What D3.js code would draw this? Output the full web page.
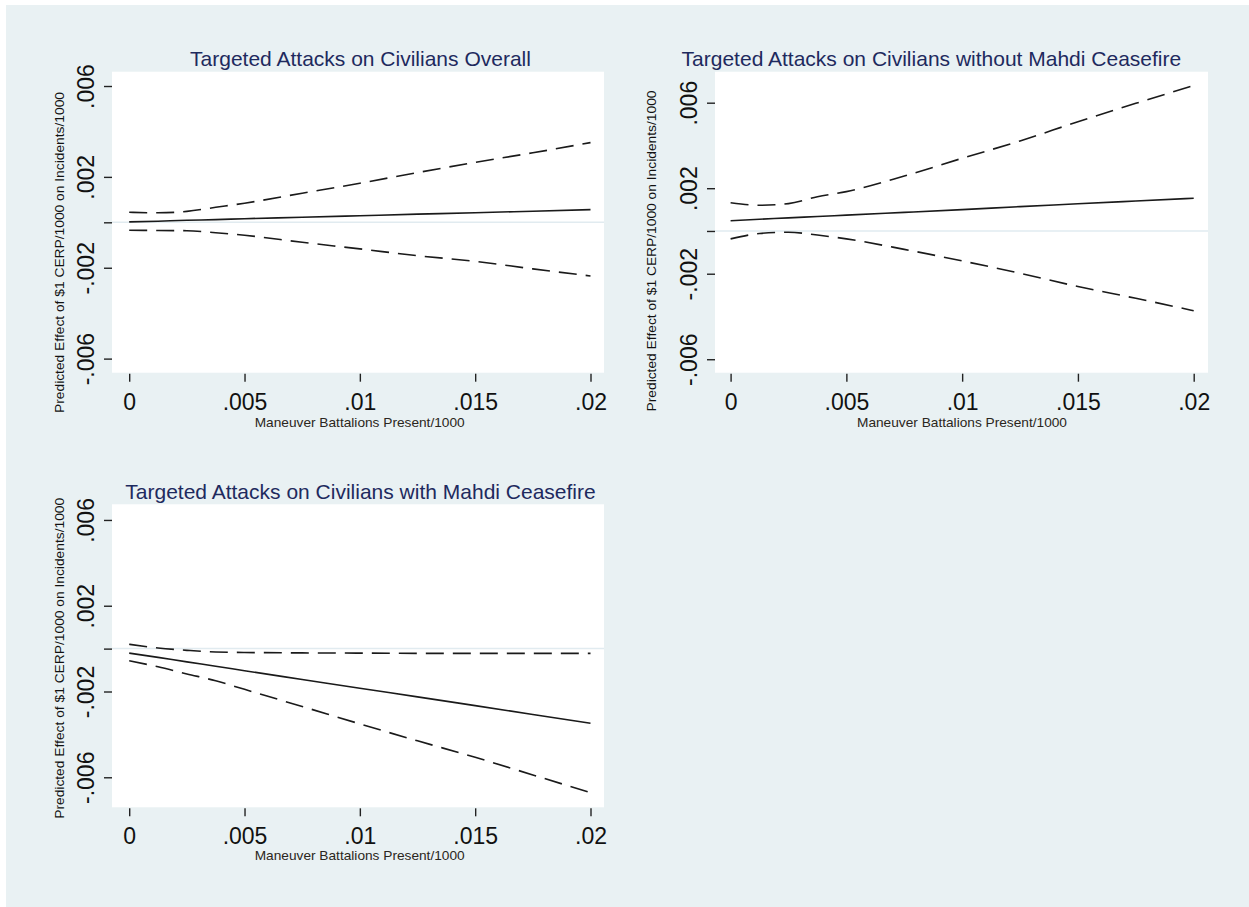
<!DOCTYPE html>
<html>
<head>
<meta charset="utf-8">
<script src="https://cdn.jsdelivr.net/npm/d3@7"></script>
<style>
  html, body { margin: 0; padding: 0; background: #ffffff; }
  svg { display: block; }
</style>
</head>
<body>
<svg id="chart" width="1249" height="907"></svg>
<script>
// ---------------- DATA ----------------
const xValues = [0, 0.00125, 0.0025, 0.00375, 0.005, 0.0075, 0.01, 0.0125, 0.015, 0.0175, 0.02];

// Panel 1: Overall
const overallEstimate = [0.00002, 0.00005, 0.00009, 0.00012, 0.00016, 0.00022, 0.00029, 0.00036, 0.00042, 0.00049, 0.00056];
const overallUpper    = [0.00044, 0.00042, 0.00048, 0.00066, 0.00084, 0.00128, 0.00172, 0.00219, 0.00264, 0.00306, 0.00351];
const overallLower    = [-0.00035, -0.00036, -0.00037, -0.00046, -0.00057, -0.00088, -0.00117, -0.00147, -0.00172, -0.00205, -0.00236];

// Panel 2: without Mahdi ceasefire
const withoutEstimate = [0.00048, 0.00055, 0.00061, 0.00068, 0.00074, 0.00087, 0.00100, 0.00114, 0.00127, 0.00140, 0.00153];
const withoutUpper    = [0.00132, 0.00120, 0.00128, 0.00160, 0.00184, 0.00257, 0.00340, 0.00421, 0.00511, 0.00597, 0.00680];
const withoutLower    = [-0.00037, -0.00012, -0.00006, -0.00019, -0.00037, -0.00086, -0.00140, -0.00198, -0.00260, -0.00315, -0.00373];

// Panel 3: with Mahdi ceasefire
const withEstimate = [-0.00021, -0.00041, -0.00062, -0.00082, -0.00103, -0.00144, -0.00185, -0.00225, -0.00266, -0.00307, -0.00348];
const withUpper    = [0.00020, 0.00003, -0.00008, -0.00016, -0.00018, -0.00020, -0.00021, -0.00022, -0.00022, -0.00022, -0.00022];
const withLower    = [-0.00057, -0.00085, -0.00118, -0.00150, -0.00190, -0.00270, -0.00351, -0.00430, -0.00507, -0.00589, -0.00672];

const panelTitles = [
  "Targeted Attacks on Civilians Overall",
  "Targeted Attacks on Civilians without Mahdi Ceasefire",
  "Targeted Attacks on Civilians with Mahdi Ceasefire"
];
const yTickValues = [0.006, 0.002, 0, -0.002, -0.006];
const yTickLabels = [".006", ".002", "", "-.002", "-.006"];
const xTickValues = [0, 0.005, 0.01, 0.015, 0.02];
const xTickLabels = ["0", ".005", ".01", ".015", ".02"];
const xAxisTitle = "Maneuver Battalions Present/1000";
const yAxisTitle = "Predicted Effect of $1 CERP/1000 on Incidents/1000";

// ---------------- LAYOUT ----------------
const panels = [
  { est: overallEstimate, up: overallUpper, lo: overallLower, title: panelTitles[0],
    left: 112, right: 604, top: 71.7, bottom: 372.7, yDomain: [-0.00662, 0.00663],
    xr: [129.2, 590.5], titleX: 360.5, titleY: 66, yTitleX: 63.5, yTitleY: 252.5, xTitleX: 359.7, xTitleY: 427 },
  { est: withoutEstimate, up: withoutUpper, lo: withoutLower, title: panelTitles[1],
    left: 715, right: 1208, top: 71.7, bottom: 372.7, yDomain: [-0.00663, 0.00745],
    xr: [730.6, 1193.7], titleX: 931.4, titleY: 66, yTitleX: 656, yTitleY: 251, xTitleX: 962, xTitleY: 427 },
  { est: withEstimate, up: withUpper, lo: withLower, title: panelTitles[2],
    left: 112, right: 604, top: 504.3, bottom: 807.3, yDomain: [-0.0074, 0.00673],
    xr: [129.2, 590.5], titleX: 360.5, titleY: 499, yTitleX: 64, yTitleY: 658.3, xTitleX: 359.7, xTitleY: 860 }
];

const svg = d3.select("#chart");
const FONT = "'Liberation Sans', Arial, Helvetica, sans-serif";

svg.append("rect").attr("x", 6).attr("y", 5).attr("width", 1243).attr("height", 902).attr("fill", "#E9F1F3");

panels.forEach(p => {
  const x = d3.scaleLinear().domain([0, 0.02]).range(p.xr);
  const y = d3.scaleLinear().domain(p.yDomain).range([p.bottom, p.top]);
  const g = svg.append("g");

  g.append("rect").attr("x", p.left).attr("y", p.top)
    .attr("width", p.right - p.left).attr("height", p.bottom - p.top).attr("fill", "#ffffff");

  // zero reference line
  g.append("line").attr("x1", p.left).attr("x2", p.right)
    .attr("y1", y(0)).attr("y2", y(0)).attr("stroke", "#E1EBF0").attr("stroke-width", 1.5);

  // y axis
  const ya = g.append("g").attr("transform", `translate(${p.left},0)`)
    .call(d3.axisLeft(y).tickValues(yTickValues).tickSize(8).tickPadding(0)
      .tickFormat((d, i) => yTickLabels[i]));
  ya.select(".domain").remove();
  ya.selectAll(".tick line").attr("stroke", "#222").attr("stroke-width", 1.4);
  ya.selectAll(".tick text").attr("x", null).attr("dy", null)
    .attr("transform", "translate(-18.5,0) rotate(-90)")
    .attr("text-anchor", "middle").attr("fill", "#111")
    .style("font-family", FONT).style("font-size", "23px");

  // x axis
  const xa = g.append("g").attr("transform", `translate(0,${p.bottom})`)
    .call(d3.axisBottom(x).tickValues(xTickValues).tickSize(9).tickPadding(0)
      .tickFormat((d, i) => xTickLabels[i]));
  xa.select(".domain").remove();
  xa.selectAll(".tick line").attr("stroke", "#222").attr("stroke-width", 1.4).attr("y1", 1);
  xa.selectAll(".tick text").attr("y", 37).attr("dy", null)
    .attr("fill", "#111").style("font-family", FONT).style("font-size", "23px");

  const line = d3.line().x((d, i) => x(xValues[i])).y(d => y(d)).curve(d3.curveMonotoneX);

  g.append("path").datum(p.up).attr("d", line).attr("fill", "none")
    .attr("stroke", "#1a1a1a").attr("stroke-width", 1.6).attr("stroke-dasharray", "18,9");
  g.append("path").datum(p.lo).attr("d", line).attr("fill", "none")
    .attr("stroke", "#1a1a1a").attr("stroke-width", 1.6).attr("stroke-dasharray", "18,9");
  g.append("path").datum(p.est).attr("d", line).attr("fill", "none")
    .attr("stroke", "#1a1a1a").attr("stroke-width", 1.6);

  // titles
  g.append("text").attr("x", p.titleX).attr("y", p.titleY).attr("text-anchor", "middle")
    .attr("fill", "#1e2a5e").style("font-family", FONT).style("font-size", "21px").text(p.title);

  g.append("text").attr("x", p.xTitleX).attr("y", p.xTitleY).attr("text-anchor", "middle")
    .attr("fill", "#2b2620").style("font-family", FONT).style("font-size", "13.5px")
    .attr("textLength", 210).attr("lengthAdjust", "spacingAndGlyphs").text(xAxisTitle);

  g.append("text").attr("transform", `translate(${p.yTitleX},${p.yTitleY}) rotate(-90)`)
    .attr("text-anchor", "middle").attr("fill", "#111")
    .style("font-family", FONT).style("font-size", "13.5px")
    .attr("textLength", 321).attr("lengthAdjust", "spacingAndGlyphs").text(yAxisTitle);
});
</script>
</body>
</html>
